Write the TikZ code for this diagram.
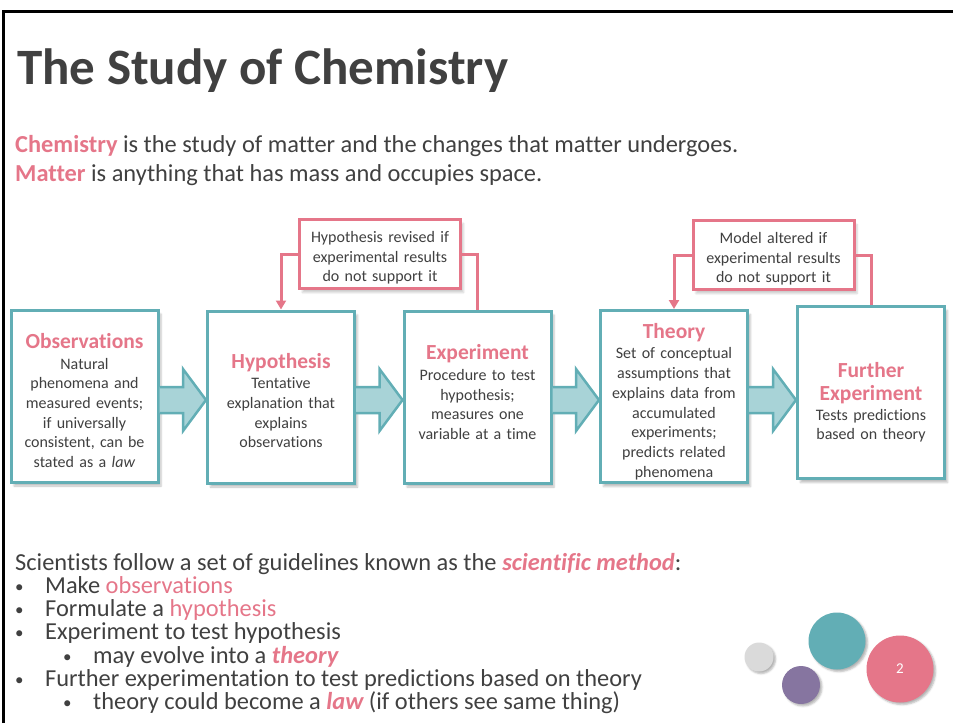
\documentclass[tikz,border=0pt]{standalone}
\usepackage{fontspec}
\setmainfont[Ligatures=CommonOff]{Carlito}
\usetikzlibrary{calc,arrows.meta,shadows.blur}

\definecolor{chempink}{RGB}{229,118,137}
\definecolor{chemteal}{RGB}{98,174,181}
\definecolor{arrowteal}{RGB}{168,211,215}
\definecolor{inkgray}{RGB}{64,64,64}
\definecolor{dotpurple}{RGB}{134,117,160}
\definecolor{dotgray}{RGB}{218,218,218}
\newcommand{\hd}[1]{{\fontsize{21.5}{23}\selectfont\bfseries\color{chempink}#1}}
\newcommand{\pad}[2]{\rule[-#2]{0pt}{#1}}
\newcommand{\bul}{\makebox[30pt][l]{\fontsize{17}{17}\selectfont\raisebox{1pt}{•}}}

\begin{document}
\begin{tikzpicture}[x=1pt,y=-1pt,
    every node/.style={text=inkgray},
    txt/.style={anchor=base west,inner sep=0pt,font=\fontsize{24.4}{28}\selectfont},
    stage/.style={draw=chemteal,line width=3pt,fill=white,minimum width=147pt,minimum height=172pt,
      text width=142pt,align=center,inner sep=0pt,font=\fontsize{16}{19.7}\selectfont,
      blur shadow={shadow xshift=3pt,shadow yshift=-4pt,shadow opacity=25}},
    fbbox/.style={draw=chempink,line width=3pt,fill=white,minimum width=161pt,minimum height=69pt,
      text width=155pt,align=center,inner sep=0pt,font=\fontsize{16}{19.5}\selectfont,
      blur shadow={shadow xshift=3pt,shadow yshift=-4pt,shadow opacity=20}},
    fbline/.style={draw=chempink,line width=3pt},
    bigarrow/.style={draw=chemteal,fill=arrowteal,line width=2.5pt},
    dot/.style={circle,inner sep=0pt,blur shadow={shadow xshift=2pt,shadow yshift=-2pt,shadow opacity=30}}]
    \useasboundingbox (0,0) rectangle (953,723);
    \draw[line width=3pt] (3.5,723) |- (953,11.5);

    \node[txt,font=\fontsize{51}{60}\selectfont\bfseries] (title) at (17,84) {The Study of Chemistry};
    \node[txt] (chem) at (15,152) {\textcolor{chempink}{\bfseries Chemistry} is the study of matter and the changes that matter undergoes.};
    \node[txt] (matter) at (15,181) {\textcolor{chempink}{\bfseries Matter} is anything that has mass and occupies space.};

    \node[stage] (obs) at (84.5,396) {\pad{24pt}{0pt}\hd{Observations}\\[1pt] Natural\\ phenomena and\\ measured events;\\ if universally\\ consistent, can be\\ stated as a \emph{law}};
    \node[stage] (hyp) at (281,397) {\pad{22pt}{0pt}\hd{Hypothesis}\\[1pt] Tentative\\ explanation that\\ explains\\ observations};
    \node[stage] (exp) at (477.5,397) {\hd{Experiment}\\[1pt] Procedure to test\\ hypothesis;\\ measures one\\ variable at a time\pad{0pt}{10pt}};
    \node[stage] (thy) at (674,396.5) {\pad{25pt}{0pt}\hd{Theory}\\[1pt] Set of conceptual\\ assumptions that\\ explains data from\\ accumulated\\ experiments;\\ predicts related\\ phenomena};
    \node[stage] (fur) at (871,392.5) {\pad{35pt}{0pt}\hd{Further}\\[3.3pt] \hd{Experiment}\\[0pt] Tests predictions\\ based on theory};

    \foreach \a/\b in {obs/hyp,hyp/exp,exp/thy,thy/fur}
        \filldraw[bigarrow] (\a.east |- 0,387) -| ($(\b.west |- 0,369)+(-23,0)$) -- (\b.west |- 0,400)
            -- ($(\b.west |- 0,431)+(-23,0)$) |- (\a.east |- 0,413);

    \node[fbbox] (rev) at (380,254) {\pad{19pt}{0pt}Hypothesis revised if\\ experimental results\\ do not support it};
    \node[fbbox] (alt) at (773.5,255) {\pad{19pt}{0pt}Model altered if\\ experimental results\\ do not support it};
    \draw[fbline,-{Triangle[width=10pt,length=9pt]}] (rev.west) -| (hyp.north);
    \draw[fbline] (rev.east) -| (exp.north);
    \draw[fbline,-{Triangle[width=10pt,length=9pt]}] (alt.west) -| (thy.north);
    \draw[fbline] (alt.east) -| (fur.north);

    \node[txt] (sm) at (15,570) {Scientists follow a set of guidelines known as the \textcolor{chempink}{\bfseries\itshape scientific method}:};
    \node[txt] (b1) at (15,593) {\bul Make \textcolor{chempink}{observations}};
    \node[txt] (b2) at (15,616) {\bul Formulate a \textcolor{chempink}{hypothesis}};
    \node[txt] (b3) at (15,639) {\bul Experiment to test hypothesis};
    \node[txt] (b4) at (63,663) {\bul may evolve into a \textcolor{chempink}{\bfseries\itshape theory}};
    \node[txt] (b5) at (15,686) {\bul Further experimentation to test predictions based on theory};
    \node[txt] (b6) at (63,709) {\bul theory could become a \textcolor{chempink}{\bfseries\itshape law} (if others see same thing)};

    \node[dot,fill=dotgray,minimum size=29pt] (d1) at (759,657) {};
    \node[dot,fill=dotpurple,minimum size=38pt] (d2) at (801,685) {};
    \node[dot,fill=chemteal,minimum size=57pt] (d3) at (837,641) {};
    \node[dot,fill=chempink,minimum size=67pt,text=white,font=\fontsize{15}{18}\selectfont] (d4) at (900,669) {2};
\end{tikzpicture}
\end{document}
